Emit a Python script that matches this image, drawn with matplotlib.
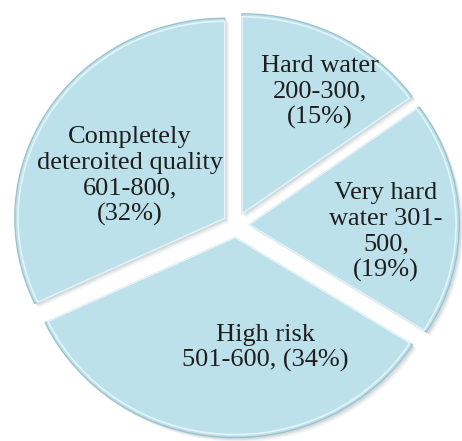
import matplotlib
matplotlib.use("Agg")
import matplotlib.pyplot as plt
import matplotlib.transforms as mtransforms

# Water hardness classes (mg/L) and their share of samples
categories = ["Hard water", "Very hard water", "High risk", "Completely deteroited quality"]
ranges = ["200-300", "301-500", "501-600", "601-800"]
shares = [15, 19, 34, 32]

slice_labels = [
    "Hard water\n200-300,\n(15%)",
    "Very hard\nwater 301-\n500,\n(19%)",
    "High risk\n501-600, (34%)",
    "Completely\ndeteroited quality\n601-800,\n(32%)",
]
# label anchor points in figure pixels (from top-left)
label_px = [(320, 92), (386, 232), (265, 348), (130, 176)]

W, H = 462, 441
fig = plt.figure(figsize=(W / 100, H / 100), dpi=100)
ax = fig.add_axes([0, 0, 1, 1])
ax.set_axis_off()

fill = "#bce1eb"
explode = [0.063] * len(shares)

# soft drop shadow built from a few offset translucent layers
for k, a in zip([0.020, 0.014, 0.009], [0.08, 0.11, 0.15]):
    ax.pie(shares, explode=explode, startangle=90, counterclock=False,
           center=(k, -k * 1.1), colors=["#7a8a90"] * 4,
           wedgeprops=dict(linewidth=0, alpha=a))

wedges, _ = ax.pie(shares, explode=explode, startangle=90, counterclock=False,
                   colors=[fill] * 4,
                   wedgeprops=dict(edgecolor="#9cc4d0", linewidth=1.0))

# subtle bevel highlight just inside each slice
ax.pie(shares, explode=explode, startangle=90, counterclock=False, radius=0.985,
       colors=["none"] * 4,
       wedgeprops=dict(edgecolor="#e4f4f8", linewidth=1.2, fill=False))

ax.set_aspect("auto")
rx, ry = 210.0, 200.0
cx, cy = 236.0, 225.0
ax.set_xlim(-cx / rx, (W - cx) / rx)
ax.set_ylim(-(H - cy) / ry, cy / ry)

px_trans = mtransforms.Affine2D().scale(1 / W, -1 / H).translate(0, 1) + fig.transFigure

for text, (x, y) in zip(slice_labels, label_px):
    ax.text(x, y, text, transform=px_trans, ha="center", va="center",
            family="Liberation Serif", fontsize=19, color="#1e1e1e",
            linespacing=1.2)

fig.savefig("out.png", dpi=100, facecolor="white")
